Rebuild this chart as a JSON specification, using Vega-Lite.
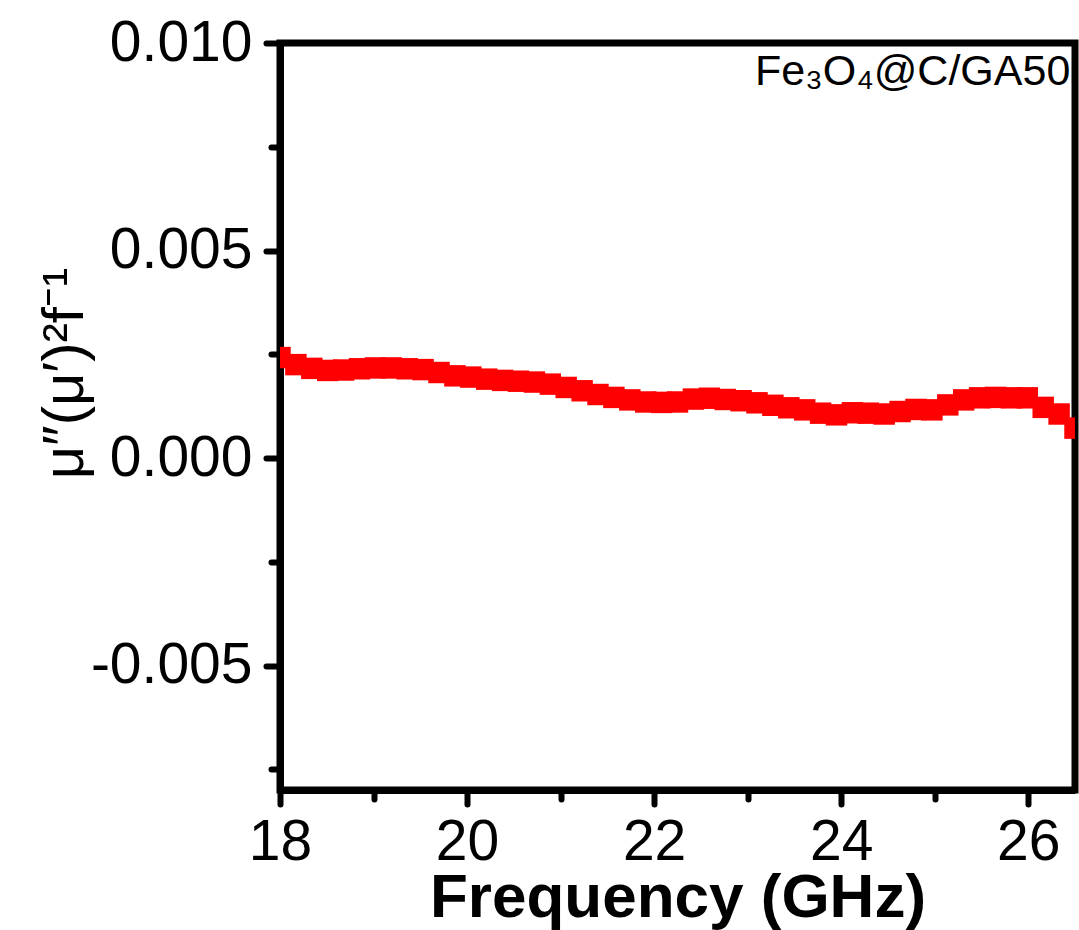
{
  "$schema": "https://vega.github.io/schema/vega-lite/v6.json",
  "width": 795,
  "height": 747,
  "autosize": "none",
  "padding": {"left": 280, "top": 43, "right": 4, "bottom": 140},
  "background": "white",
  "config": {
    "view": {"stroke": "black", "strokeWidth": 7},
    "axis": {
      "grid": false,
      "domainColor": "black",
      "domainWidth": 7,
      "tickColor": "black",
      "tickWidth": 6,
      "tickCap": "round",
      "labelFont": "Liberation Sans",
      "labelFontSize": 57,
      "labelColor": "black",
      "labelFlush": false,
      "labelOverlap": false,
      "titleColor": "black"
    }
  },
  "datasets": {
    "curve": [
      {"f": 18.00, "v": 0.00242}, {"f": 18.17, "v": 0.00225}, {"f": 18.34, "v": 0.00216},
      {"f": 18.51, "v": 0.00211}, {"f": 18.68, "v": 0.00212}, {"f": 18.85, "v": 0.00215},
      {"f": 19.02, "v": 0.00217}, {"f": 19.19, "v": 0.00217}, {"f": 19.36, "v": 0.00215},
      {"f": 19.53, "v": 0.00213}, {"f": 19.70, "v": 0.00206}, {"f": 19.87, "v": 0.00198},
      {"f": 20.04, "v": 0.00195}, {"f": 20.21, "v": 0.00190}, {"f": 20.38, "v": 0.00187},
      {"f": 20.55, "v": 0.00185}, {"f": 20.72, "v": 0.00183}, {"f": 20.89, "v": 0.00178},
      {"f": 21.06, "v": 0.00170}, {"f": 21.23, "v": 0.00162}, {"f": 21.40, "v": 0.00153},
      {"f": 21.57, "v": 0.00146}, {"f": 21.74, "v": 0.00140}, {"f": 21.91, "v": 0.00135},
      {"f": 22.08, "v": 0.00134}, {"f": 22.25, "v": 0.00135}, {"f": 22.42, "v": 0.00142},
      {"f": 22.59, "v": 0.00144}, {"f": 22.76, "v": 0.00141}, {"f": 22.93, "v": 0.00138},
      {"f": 23.10, "v": 0.00133}, {"f": 23.27, "v": 0.00127}, {"f": 23.44, "v": 0.00121},
      {"f": 23.61, "v": 0.00116}, {"f": 23.78, "v": 0.00108}, {"f": 23.95, "v": 0.00104},
      {"f": 24.12, "v": 0.00109}, {"f": 24.29, "v": 0.00108}, {"f": 24.46, "v": 0.00106},
      {"f": 24.63, "v": 0.00112}, {"f": 24.80, "v": 0.00117}, {"f": 24.97, "v": 0.00116},
      {"f": 25.14, "v": 0.00128}, {"f": 25.31, "v": 0.00140}, {"f": 25.48, "v": 0.00145},
      {"f": 25.65, "v": 0.00146}, {"f": 25.82, "v": 0.00145}, {"f": 25.99, "v": 0.00145},
      {"f": 26.16, "v": 0.00122}, {"f": 26.33, "v": 0.00106}, {"f": 26.50, "v": 0.00072}
    ],
    "note": [
      {"f": 26.45, "v": 0.009, "label": "Fe₃O₄@C/GA50"}
    ]
  },
  "layer": [
    {
      "data": {"name": "curve"},
      "mark": {"type": "line", "color": "#ff0000", "strokeWidth": 4, "clip": true},
      "encoding": {
        "x": {
          "field": "f", "type": "quantitative",
          "scale": {"domain": [18, 26.5], "nice": false, "zero": false},
          "axis": {
            "orient": "bottom",
            "values": [18, 20, 22, 24, 26],
            "tickSize": 14,
            "labelPadding": 10,
            "title": "Frequency (GHz)",
            "titleFont": "Liberation Sans",
            "titleFontSize": 62,
            "titleFontWeight": "bold",
            "titlePadding": -3
          }
        },
        "y": {
          "field": "v", "type": "quantitative",
          "scale": {"domain": [-0.008, 0.010], "nice": false, "zero": false},
          "axis": {
            "orient": "left",
            "values": [-0.005, 0, 0.005, 0.010],
            "labelExpr": "datum.value < 0 ? '-' + format(-datum.value, '.3f') : format(datum.value, '.3f')",
            "tickSize": 14,
            "labelPadding": 14,
            "title": "μ″(μ′)²f⁻¹",
            "titleFont": "Liberation Sans",
            "titleFontSize": 58,
            "titleFontWeight": "normal",
            "titleAngle": 270,
            "titleAlign": "center",
            "titleBaseline": "alphabetic",
            "titleX": -198,
            "titleY": 330
          }
        }
      }
    },
    {
      "data": {"name": "curve"},
      "mark": {"type": "point", "shape": "square", "filled": true, "color": "#ff0000", "size": 460, "opacity": 1, "strokeWidth": 0, "clip": true},
      "encoding": {
        "x": {"field": "f", "type": "quantitative", "axis": null},
        "y": {"field": "v", "type": "quantitative", "axis": null}
      }
    },
    {
      "data": {"name": "note"},
      "mark": {"type": "text", "font": "Liberation Sans", "fontSize": 43, "align": "right", "baseline": "alphabetic", "color": "black"},
      "encoding": {
        "x": {
          "field": "f", "type": "quantitative",
          "axis": {
            "orient": "bottom",
            "values": [19, 21, 23, 25],
            "tickSize": 9,
            "labels": false,
            "domain": false,
            "title": null
          }
        },
        "y": {
          "field": "v", "type": "quantitative",
          "axis": {
            "orient": "left",
            "values": [-0.0075, -0.0025, 0.0025, 0.0075],
            "tickSize": 9,
            "labels": false,
            "domain": false,
            "title": null
          }
        },
        "text": {"field": "label"}
      }
    }
  ],
  "resolve": {"axis": {"x": "independent", "y": "independent"}}
}
